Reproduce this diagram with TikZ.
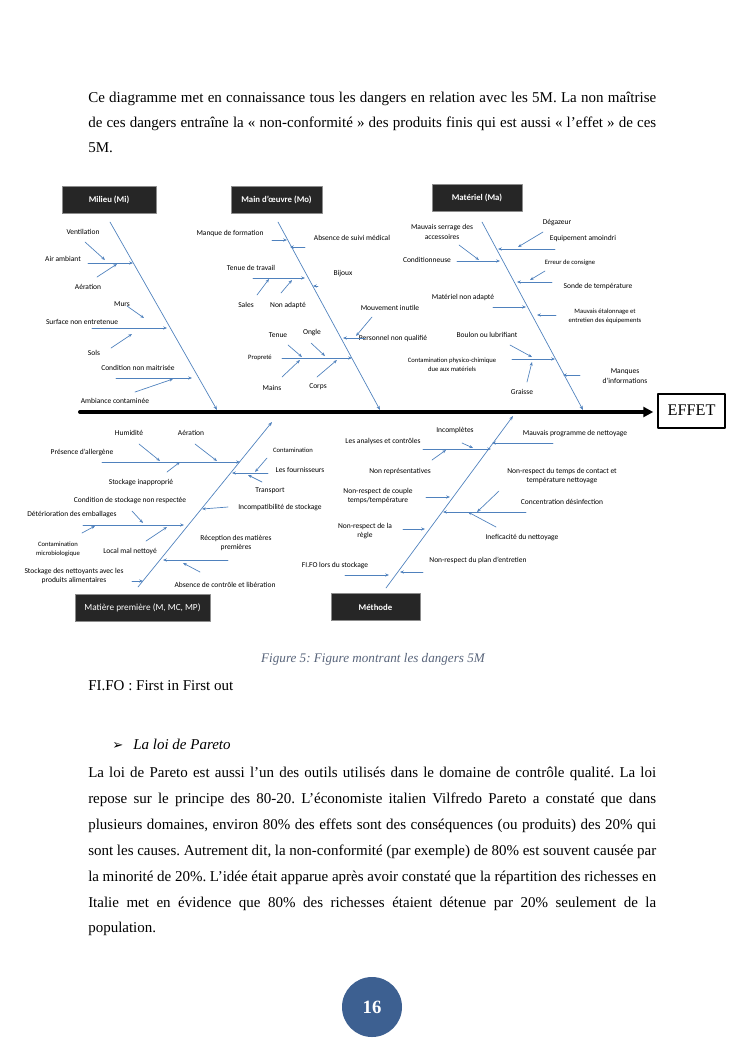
\documentclass[tikz,border=0pt]{standalone}
\usepackage{fontspec}
\setmainfont{Liberation Serif}
\newfontfamily\calib{Carlito}
\newfontfamily\dingfont{DejaVu Sans}
\usetikzlibrary{arrows.meta}
\frenchspacing

\definecolor{bonecol}{RGB}{79,129,189}
\definecolor{headfill}{RGB}{38,38,38}
\definecolor{capcol}{RGB}{88,100,122}
\definecolor{pagecol}{RGB}{61,96,145}

\begin{document}
\begin{tikzpicture}[
  x=0.8pt,
  y=-0.8pt,
  line cap=round,
  line join=round,
  bodyline/.style={
    anchor=base west,
    inner sep=0pt,
    font=\fontsize{12}{14}\selectfont
  },
  spine/.style={
    draw=black,
    line width=3.2pt,
    -{Triangle[length=8pt,width=8pt]}
  },
  bone/.style={
    draw=bonecol,
    line width=0.55pt,
    -{Stealth[length=3.4pt,width=2.6pt]}
  },
  cause/.style={
    draw=bonecol,
    line width=0.55pt,
    -{Stealth[length=3pt,width=2.4pt]}
  },
  headbox/.style={
    fill=headfill,
    draw=black!45,
    line width=0.4pt,
    text=white,
    inner sep=0pt,
    minimum height=21.6pt,
    font=\calib\bfseries\fontsize{7}{8}\selectfont
  },
  lab/.style={
    inner sep=0pt,
    align=center,
    font=\calib\fontsize{6}{7.6}\selectfont
  },
  labsmall/.style={
    inner sep=0pt,
    align=center,
    font=\calib\fontsize{5.3}{7}\selectfont
  }
]

  % cadre de la page
  \path[use as bounding box]
    (0,0) rectangle (745,1053);

  % texte du haut
  \def\lw{454.4pt}
  \node[bodyline] (l1) at (88,102)
    {\makebox[\lw][s]{Ce diagramme met en connaissance tous les dangers en relation avec les 5M. La non maîtrise}};
  \node[bodyline] (l2) at (88,127)
    {\makebox[\lw][s]{de ces dangers entraîne la « non-conformité » des produits finis qui est aussi « l’effet » de ces}};
  \node[bodyline] (l3) at (88,152) {5M.};

  % arête principale et effet
  \coordinate (tail) at (80,412);
  \node[
    draw=black,
    line width=1.6pt,
    minimum width=53.6pt,
    minimum height=27.2pt,
    font=\fontsize{13}{15}\selectfont
  ] (effet) at (691.5,410.5) {EFFET};
  \draw[spine,shorten >=3pt] (tail) -- (tail -| effet.west);

  % en-tetes des 5M
  \node[headbox,minimum width=75.2pt] (milieu) at (109,200) {Milieu (Mi)};
  \node[headbox,minimum width=72.8pt] (mainoeuvre) at (276.5,199.5) {Main d’œuvre (Mo)};
  \node[headbox,minimum width=72pt] (materiel) at (477,197.5) {Matériel (Ma)};
  \node[headbox,minimum width=108pt,font=\calib\fontsize{7.4}{8}\selectfont]
    (matiere) at (142.5,608) {Matière première (M, MC, MP)};
  \node[headbox,minimum width=71.2pt] (methode) at (375.5,607) {Méthode};

  % arêtes des causes
  \coordinate (mi1) at (110,222);
  \coordinate (mi2) at (217,410);
  \coordinate (mo1) at (278,222);
  \coordinate (mo2) at (380,410);
  \coordinate (ma1) at (482,222);
  \coordinate (ma2) at (583,410);
  \coordinate (mp1) at (138,587);
  \coordinate (mp2) at (272,422);
  \coordinate (me1) at (386,588);
  \coordinate (me2) at (513,416);
  \draw[bone] (mi1) -- (mi2);
  \draw[bone] (mo1) -- (mo2);
  \draw[bone] (ma1) -- (ma2);
  \draw[bone] (mp1) -- (mp2);
  \draw[bone] (me1) -- (me2);

  % Milieu
  \node[lab] (ventil) at (83,232) {Ventilation};
  \node[lab] (airamb) at (63,259) {Air ambiant};
  \node[lab] (aeration) at (88,287) {Aération};
  \node[lab] (murs) at (122,304) {Murs};
  \node[lab] (surface) at (82,322) {Surface non entretenue};
  \node[lab] (sols) at (94,353) {Sols};
  \node[lab] (condnm) at (138,368) {Condition non maitrisée};
  \node[lab] (ambiance) at (115,401) {Ambiance contaminée};
  \draw[cause] (85,242) -- (105,260);
  \draw[cause] (88,263) -- (133,263);
  \draw[cause] (97,277) -- (117,264);
  \draw[cause] (127,306) -- (144,318);
  \draw[cause] (92,328) -- (167,328);
  \draw[cause] (111,348) -- (132,334);
  \draw[cause] (116,378) -- (192,378);
  \draw[cause] (135,392) -- (173,379);

  % Main d'oeuvre
  \node[lab] (manque) at (230,233) {Manque de formation};
  \node[lab] (absence) at (352,238) {Absence de suivi médical};
  \node[lab] (tenuetr) at (251,268) {Tenue de travail};
  \node[lab] (sales) at (246,305) {Sales};
  \node[lab] (nonadapt) at (288,305) {Non adapté};
  \node[lab] (bijoux) at (343,274) {Bijoux};
  \node[lab] (mouvement) at (390,308) {Mouvement inutile};
  \node[lab] (personnel) at (393,338) {Personnel non qualifié};
  \node[lab] (tenue) at (278,335) {Tenue};
  \node[lab] (ongle) at (312,333) {Ongle};
  \node[labsmall] (proprete) at (260,358) {Propreté};
  \node[lab] (mains) at (272,388) {Mains};
  \node[lab] (corps) at (318,387) {Corps};
  \draw[cause] (272,240) -- (287,240);
  \draw[cause] (305,247) -- (290,247);
  \draw[cause] (253,278) -- (305,278);
  \draw[cause] (257,295) -- (269,279);
  \draw[cause] (281,293) -- (292,280);
  \draw[cause] (318,286) -- (313,286);
  \draw[cause] (372,317) -- (356,336);
  \draw[cause] (365,338) -- (343,338);
  \draw[cause] (288,345) -- (302,357);
  \draw[cause] (311,343) -- (325,356);
  \draw[cause] (282,358) -- (352,358);
  \draw[cause] (282,377) -- (300,360);
  \draw[cause] (317,377) -- (337,360);

  % Materiel
  \node[lab] (mauvser) at (442,232) {Mauvais serrage des\\accessoires};
  \node[lab] (condneuse) at (427,260) {Conditionneuse};
  \node[lab] (degazeur) at (557,223) {Dégazeur};
  \node[lab] (equip) at (583,238) {Equipement amoindri};
  \node[labsmall] (erreur) at (570,263) {Erreur de consigne};
  \node[lab] (sonde) at (598,286) {Sonde de température};
  \node[lab] (matna) at (463,297) {Matériel non adapté};
  \node[labsmall] (etalon) at (605,316) {Mauvais étalonnage et\\entretien des équipements};
  \node[lab] (boulon) at (487,335) {Boulon ou lubrifiant};
  \node[labsmall] (contphys) at (452,365) {Contamination physico-chimique\\due aux matériels};
  \node[lab] (graisse) at (522,392) {Graisse};
  \node[lab] (manques) at (625,376) {Manques\\d’informations};
  \draw[cause] (459,245) -- (479,260);
  \draw[cause] (457,261) -- (500,261);
  \draw[cause] (543,232) -- (518,247);
  \draw[cause] (555,249) -- (498,249);
  \draw[cause] (545,271) -- (530,280);
  \draw[cause] (552,282) -- (517,282);
  \draw[cause] (493,307) -- (526,307);
  \draw[cause] (556,315) -- (537,315);
  \draw[cause] (510,345) -- (532,357);
  \draw[cause] (512,359) -- (555,359);
  \draw[cause] (527,382) -- (532,362);
  \draw[cause] (580,375) -- (563,375);

  % Matiere premiere
  \node[lab] (humidite) at (129,433) {Humidité};
  \node[lab] (aerationb) at (191,433) {Aération};
  \node[lab] (allergene) at (82,452) {Présence d’allergène};
  \node[lab] (stockinap) at (141,483) {Stockage inapproprié};
  \node[labsmall] (contam) at (293,450) {Contamination};
  \node[lab] (fourn) at (300,470) {Les fournisseurs};
  \node[lab] (transport) at (270,491) {Transport};
  \node[lab] (incompat) at (280,508) {Incompatibilité de stockage};
  \node[lab] (condstock) at (130,501) {Condition de stockage non respectée};
  \node[lab] (deterior) at (72,515) {Détérioration des emballages};
  \node[labsmall] (contmicro) at (58,549) {Contamination\\microbiologique};
  \node[lab] (local) at (130,551) {Local mal nettoyé};
  \node[lab] (reception) at (236,543) {Réception des matières\\premières};
  \node[lab] (nettoyants) at (74,576) {Stockage des nettoyants avec les\\produits alimentaires};
  \node[lab] (absctrl) at (225,585) {Absence de contrôle et libération};
  \draw[cause] (139,444) -- (160,461);
  \draw[cause] (195,444) -- (217,461);
  \draw[cause] (102,462) -- (240,462);
  \draw[cause] (167,472) -- (180,462);
  \draw[cause] (267,458) -- (255,472);
  \draw[cause] (268,473) -- (232,473);
  \draw[cause] (262,482) -- (248,475);
  \draw[cause] (228,507) -- (202,509);
  \draw[cause] (132,511) -- (143,523);
  \draw[cause] (83,525) -- (184,525);
  \draw[cause] (82,533) -- (95,526);
  \draw[cause] (146,541) -- (167,527);
  \draw[cause] (228,560) -- (163,560);
  \draw[cause] (132,581) -- (143,581);
  \draw[cause] (200,572) -- (183,563);

  % Methode
  \node[lab] (incompl) at (455,430) {Incomplètes};
  \node[lab] (analyses) at (383,441) {Les analyses et contrôles};
  \node[lab] (mauvprog) at (575,434) {Mauvais programme de nettoyage};
  \node[lab] (nonrep) at (400,472) {Non représentatives};
  \node[lab] (tempscont) at (562,476) {Non-respect du temps de contact et\\température nettoyage};
  \node[lab] (couple) at (378,496) {Non-respect de couple\\temps/température};
  \node[lab] (concent) at (562,502) {Concentration désinfection};
  \node[lab] (ineff) at (522,538) {Ineficacité du nettoyage};
  \node[lab] (regle) at (365,531) {Non-respect de la\\règle};
  \node[lab] (plan) at (478,560) {Non-respect du plan d’entretien};
  \node[lab] (fifo) at (335,566) {FI.FO lors du stockage};
  \draw[cause] (462,443) -- (473,448);
  \draw[cause] (423,449) -- (491,449);
  \draw[cause] (553,443) -- (492,443);
  \draw[cause] (432,460) -- (446,450);
  \draw[cause] (499,491) -- (477,512);
  \draw[cause] (426,497) -- (450,497);
  \draw[cause] (526,512) -- (443,512);
  \draw[cause] (496,527) -- (468,512);
  \draw[cause] (403,529) -- (425,529);
  \draw[cause] (423,572) -- (400,572);
  \draw[cause] (345,575) -- (389,575);

  % legende
  \node[
    anchor=base,
    inner sep=0pt,
    text=capcol,
    font=\itshape\fontsize{10.5}{12}\selectfont
  ] (caption) at (373,662) {Figure 5: Figure montrant les dangers 5M};

  % texte du bas
  \node[bodyline] (fifonote) at (88,690) {FI.FO : First in First out};
  \node[
    anchor=base west,
    inner sep=0pt,
    font=\dingfont\fontsize{10.5}{12}\selectfont
  ] (puce) at (112,749) {➢};
  \node[bodyline,font=\itshape\fontsize{12}{14}\selectfont] (pareto) at (133,749) {La loi de Pareto};
  \node[bodyline] (p1) at (88,777)
    {\makebox[\lw][s]{La loi de Pareto est aussi l’un des outils utilisés dans le domaine de contrôle qualité. La loi}};
  \node[bodyline] (p2) at (88,803)
    {\makebox[\lw][s]{repose sur le principe des 80-20. L’économiste italien Vilfredo Pareto a constaté que dans}};
  \node[bodyline] (p3) at (88,829)
    {\makebox[\lw][s]{plusieurs domaines, environ 80\% des effets sont des conséquences (ou produits) des 20\% qui}};
  \node[bodyline] (p4) at (88,855)
    {\makebox[\lw][s]{sont les causes. Autrement dit, la non-conformité (par exemple) de 80\% est souvent causée par}};
  \node[bodyline] (p5) at (88,881)
    {\makebox[\lw][s]{la minorité de 20\%. L’idée était apparue après avoir constaté que la répartition des richesses en}};
  \node[bodyline] (p6) at (88,907)
    {\makebox[\lw][s]{Italie met en évidence que 80\% des richesses étaient détenue par 20\% seulement de la}};
  \node[bodyline] (p7) at (88,932) {population.};

  % numero de page
  \node[
    circle,
    fill=pagecol,
    minimum size=48pt,
    inner sep=0pt,
    text=white,
    font=\bfseries\fontsize{15}{17}\selectfont
  ] (pagenum) at (372,1007) {16};

\end{tikzpicture}
\end{document}
